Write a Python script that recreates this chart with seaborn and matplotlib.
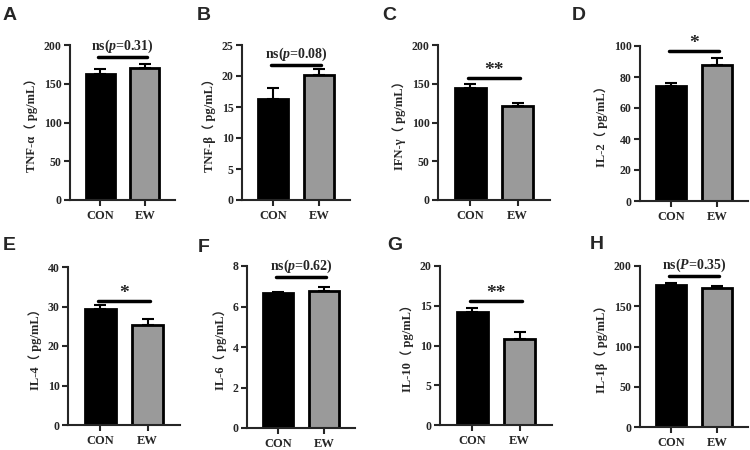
import pandas as pd
import matplotlib
matplotlib.use('Agg')
import matplotlib.pyplot as plt
import seaborn as sns

# data (mean, upper SEM)
groups = ['CON', 'EW']
panel_letters = ['A', 'B', 'C', 'D', 'E', 'F', 'G', 'H']
ylabels = ['TNF-α（ pg/mL）', 'TNF-β（ pg/mL）', 'IFN-γ（ pg/mL）', 'IL-2（ pg/mL）',
           'IL-4（ pg/mL）', 'IL-6（ pg/mL）', 'IL-10（ pg/mL）', 'IL-1β（ pg/mL）']
means = [[162, 170], [16.3, 20.1], [144, 121], [74, 87.5],
         [29.4, 25.3], [6.69, 6.77], [14.2, 10.8], [176, 173]]
errs = [[6.5, 6], [1.7, 1.0], [6, 4.5], [2, 5],
        [0.9, 1.5], [0.05, 0.2], [0.55, 0.85], [3, 2.5]]
ymax = [200, 25, 200, 100, 40, 8, 20, 200]
ystep = [50, 5, 50, 20, 10, 2, 5, 50]
sig_labels = [r'ns($\it{p}$=0.31)', r'ns($\it{p}$=0.08)', '**', '*',
              '*', r'ns($\it{p}$=0.62)', '**', r'ns($\it{P}$=0.35)']
sig_y = [185, 21.8, 158, 97, 31.5, 7.45, 15.6, 187.7]

sns.set_style('ticks')
serif = ['Liberation Serif', 'Noto Sans CJK SC', 'DejaVu Sans']
plt.rcParams['font.family'] = serif
plt.rcParams['font.weight'] = 'bold'
plt.rcParams['mathtext.fontset'] = 'custom'
plt.rcParams['mathtext.rm'] = 'Liberation Serif:bold'
plt.rcParams['mathtext.it'] = 'Liberation Serif:bold:italic'

fig = plt.figure(figsize=(7.5, 4.5), dpi=100)
W, H = 750, 450

# axes boxes in pixels: left, top, right, bottom
boxes = [(70, 45, 175, 200), (242, 45, 350, 200), (438, 45, 550, 200), (640, 46, 748, 201),
         (68, 267, 180, 425), (247, 266, 355, 428), (440, 266, 552, 425), (640, 266, 748, 427)]
letter_pos = [(3, 16), (197, 16), (382, 16), (572, 16),
              (3, 246), (198, 247), (387, 246), (590, 245)]

for i in range(8):
    l, t, r, b = boxes[i]
    ax = fig.add_axes([l / W, 1 - b / H, (r - l) / W, (b - t) / H])
    df = pd.DataFrame({'group': groups, 'value': means[i]})
    sns.barplot(data=df, x='group', y='value', hue='group',
                palette=['black', '#9a9a9a'], edgecolor='black', linewidth=2,
                width=0.65, errorbar=None, legend=False, ax=ax)
    ax.errorbar(x=[0, 1], y=means[i], yerr=[[0, 0], errs[i]], fmt='none',
                ecolor='black', elinewidth=1.5, capsize=4, capthick=1.5, zorder=1)
    ax.set_xlim(-0.68, 1.68)
    ax.set_ylim(0, ymax[i])
    ax.set_yticks(range(0, ymax[i] + 1, ystep[i]))
    ax.set_xlabel('')
    ax.set_ylabel(ylabels[i], fontsize=9, fontweight='bold', labelpad=4)
    sns.despine(ax=ax)
    for s in ['left', 'bottom']:
        ax.spines[s].set_linewidth(1.5)
    ax.tick_params(axis='both', width=1.5, length=4)
    ax.tick_params(axis='y', labelsize=8.5, pad=2)
    ax.tick_params(axis='x', labelsize=9, pad=3)
    for lab in ax.get_xticklabels() + ax.get_yticklabels():
        lab.set_fontweight('bold')
    # significance bracket
    ax.plot([-0.05, 1.05], [sig_y[i], sig_y[i]], color='black', lw=2.5, clip_on=False)
    is_ns = sig_labels[i].startswith('ns')
    ax.annotate(sig_labels[i], xy=(0.5, sig_y[i]), xytext=(0, 1.5 if is_ns else -1),
                textcoords='offset points', ha='center', va='bottom',
                fontsize=10 if is_ns else 14,
                fontweight='bold', annotation_clip=False)
    lx, ly = letter_pos[i]
    fig.text(lx / W, 1 - ly / H, panel_letters[i], fontsize=14, fontweight='bold',
             family='Liberation Sans', va='center', ha='left')

fig.savefig('out.png', dpi=100)
